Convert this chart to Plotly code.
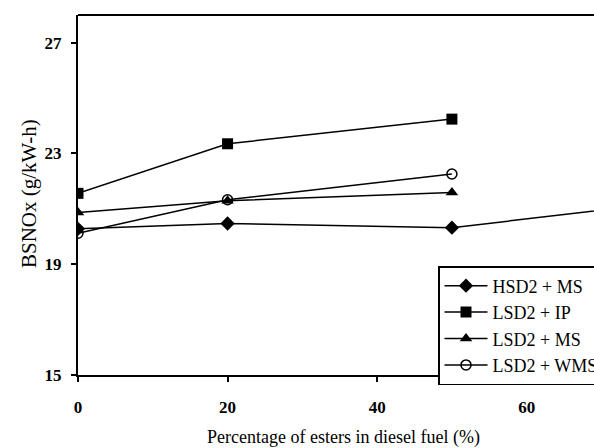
import plotly.graph_objects as go

# Ester blend percentages and brake-specific NOx for each fuel / ester combination
x_hsd2_ms = [0, 20, 50, 100]
y_hsd2_ms = [20.28, 20.47, 20.32, 21.9]

x_lsd2 = [0, 20, 50]
y_lsd2_ip = [21.56, 23.35, 24.24]
y_lsd2_ms = [20.87, 21.29, 21.59]
y_lsd2_wms = [20.12, 21.33, 22.26]

x_ticks = [0, 20, 40, 60]
y_ticks = [15, 19, 23, 27]

FONT = "Liberation Serif, Times New Roman, serif"

# plotting frame in pixels
L, T, B = 78, 15, 73
W, H = 594, 448
PW, PH = W - L, H - T - B

series = [
    ("HSD2 + MS", x_hsd2_ms, y_hsd2_ms, dict(symbol="diamond", size=11, color="black")),
    ("LSD2 + IP", x_lsd2, y_lsd2_ip, dict(symbol="square", size=11, color="black")),
    ("LSD2 + MS", x_lsd2, y_lsd2_ms, dict(symbol="triangle-up", size=11, color="black")),
    ("LSD2 + WMS", x_lsd2, y_lsd2_wms,
     dict(symbol="circle-open", size=10, color="black", line=dict(width=1.5, color="black"))),
]

fig = go.Figure()
for name, xs, ys, marker in series:
    fig.add_trace(go.Scatter(
        x=xs, y=ys, name=name, mode="lines+markers",
        line=dict(color="black", width=1.5), marker=marker, cliponaxis=True,
    ))

tickfont = dict(family=FONT, size=17, color="black", weight="bold")

fig.update_layout(
    width=W, height=H,
    margin=dict(l=L, r=0, t=T, b=B, autoexpand=False),
    paper_bgcolor="white", plot_bgcolor="white",
    font=dict(family=FONT, color="black"),
    showlegend=True,
    legend=dict(
        x=(438 - L) / PW, y=(H - B - 266) / PH, xanchor="left", yanchor="top",
        bgcolor="white", bordercolor="black", borderwidth=1.5,
        font=dict(family=FONT, size=18, color="black"),
        tracegroupgap=0, itemwidth=43,
    ),
    xaxis=dict(
        range=[0, 69.0], tickvals=x_ticks, ticks="outside", ticklen=5,
        tickwidth=1.5, tickcolor="black", tickfont=tickfont, ticklabelstandoff=11,
        showline=True, linecolor="black", linewidth=2, mirror=False,
        showgrid=False, zeroline=False,
    ),
    yaxis=dict(
        range=[15, 28.0], tickvals=y_ticks, ticks="outside", ticklen=5,
        tickwidth=1.5, tickcolor="black", tickfont=tickfont, ticklabelstandoff=6,
        showline=True, linecolor="black", linewidth=2, mirror=False,
        showgrid=False, zeroline=False,
    ),
)

# top border of the plotting frame
fig.add_shape(type="line", xref="paper", yref="paper", x0=0, x1=1, y0=1, y1=1,
              line=dict(color="black", width=2))

fig.add_annotation(
    text="Percentage of esters in diesel fuel (%)", xref="paper", yref="paper",
    x=(343 - L) / PW, y=-(437 - (H - B)) / PH, xanchor="center", yanchor="middle",
    showarrow=False, font=dict(family=FONT, size=18, color="black"),
)
fig.add_annotation(
    text="BSNOx (g/kW-h)", xref="paper", yref="paper", textangle=-90,
    x=(29 - L) / PW, y=((H - B) - 194) / PH, xanchor="center", yanchor="middle",
    showarrow=False, font=dict(family=FONT, size=21, color="black"),
)

fig.write_html("out.html")
